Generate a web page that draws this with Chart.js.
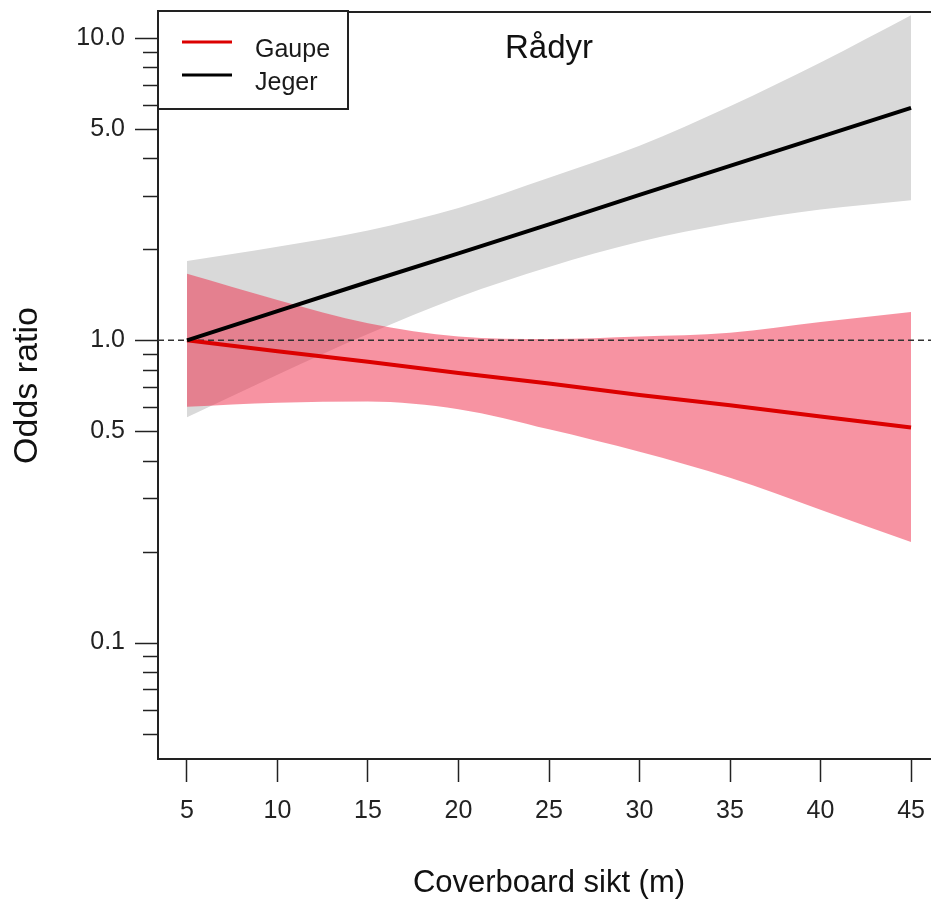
<!DOCTYPE html>
<html>
<head>
<meta charset="utf-8">
<title>Rådyr</title>
<script src="https://cdn.jsdelivr.net/npm/chart.js@4.4.1/dist/chart.umd.min.js"></script>
<style>
  html, body { margin: 0; padding: 0; background: #fff; overflow: hidden; }
  #wrap { width: 940px; height: 906px; }
</style>
</head>
<body>
<div id="wrap"><canvas id="chart" width="940" height="906"></canvas></div>
<script>
// values
const xValues = [5, 10, 15, 20, 25, 30, 35, 40, 45];
const jegerOR = [1.00, 1.25, 1.56, 1.94, 2.42, 3.03, 3.78, 4.71, 5.88];
const jegerUpper = [1.83, 2.04, 2.31, 2.74, 3.45, 4.40, 5.95, 8.30, 11.9];
const jegerLower = [0.557, 0.77, 1.05, 1.39, 1.75, 2.12, 2.44, 2.71, 2.91];
const gaupeOR = [1.00, 0.92, 0.85, 0.78, 0.72, 0.66, 0.61, 0.56, 0.515];
const gaupeUpper = [1.66, 1.36, 1.14, 1.03, 1.01, 1.03, 1.06, 1.15, 1.24];
const gaupeLower = [0.603, 0.622, 0.628, 0.592, 0.508, 0.428, 0.351, 0.275, 0.215];

const seriesNames = ['Gaupe', 'Jeger'];
const panelTitle = 'Rådyr';
const xTitle = 'Coverboard sikt (m)';
const yTitle = 'Odds ratio';

const xTicks = [5, 10, 15, 20, 25, 30, 35, 40, 45];
const yTicks = [0.05, 0.06, 0.07, 0.08, 0.09, 0.1, 0.2, 0.3, 0.4, 0.5, 0.6, 0.7, 0.8, 0.9,
                1, 2, 3, 4, 5, 6, 7, 8, 9, 10];
const yLabelValues = [0.1, 0.5, 1, 5, 10];
const yLabelTexts = ['0.1', '0.5', '1.0', '5.0', '10.0'];
const xRange = [3.4, 46.6];
const yRange = [0.0412, 12.2];
const refValue = 1;

const axisColor = '#222';
const redLine = '#dc0000';
const grayBand = '#d9d9d9';
const pinkBand = 'rgba(240, 40, 70, 0.5)';
const fontFamily = "'Liberation Sans', Arial, sans-serif";

const toPoints = (ys) => xValues.map((x, i) => ({ x: x, y: ys[i] }));

// extra bits in the style of an R base plot: tick marks, box, legend, title
const rPlotExtras = {
    id: 'rPlotExtras',
    afterDraw(chart) {
        const { ctx, chartArea, scales } = chart;
        const y = scales.y;
        ctx.save();
        ctx.strokeStyle = axisColor;
        ctx.lineWidth = 1.5;
        y.ticks.forEach(t => {
            const py = Math.round(y.getPixelForValue(t.value)) + 0.5;
            const len = yLabelValues.includes(t.value) ? 23 : 15;
            ctx.beginPath();
            ctx.moveTo(chartArea.left - len, py);
            ctx.lineTo(chartArea.left, py);
            ctx.stroke();
        });

        // top edge of the box
        ctx.lineWidth = 2;
        ctx.beginPath();
        ctx.moveTo(chartArea.left, chartArea.top);
        ctx.lineTo(chartArea.right, chartArea.top);
        ctx.stroke();

        // legend
        const lx = chartArea.left, ly = chartArea.top - 1;
        ctx.fillStyle = '#fff';
        ctx.fillRect(lx, ly, 190, 98);
        ctx.strokeRect(lx, ly, 190, 98);
        const legendColors = [chart.data.datasets[1].borderColor, chart.data.datasets[0].borderColor];
        ctx.font = '25px ' + fontFamily;
        ctx.textBaseline = 'alphabetic';
        ctx.textAlign = 'left';
        seriesNames.forEach((name, i) => {
            const rowY = ly + 31 + i * 33;
            ctx.strokeStyle = legendColors[i];
            ctx.lineWidth = 3;
            ctx.beginPath();
            ctx.moveTo(lx + 24, rowY);
            ctx.lineTo(lx + 74, rowY);
            ctx.stroke();
            ctx.fillStyle = '#1a1a1a';
            ctx.fillText(name, lx + 97, rowY + 15);
        });

        // panel title
        ctx.font = '33px ' + fontFamily;
        ctx.textAlign = 'center';
        ctx.fillStyle = '#111';
        ctx.fillText(panelTitle, (chartArea.left + chartArea.right) / 2, 58);
        ctx.restore();
    }
};

const ctx = document.getElementById('chart').getContext('2d');
new Chart(ctx, {
    type: 'line',
    data: {
        datasets: [
            {
                label: 'Jeger',
                data: toPoints(jegerOR),
                borderColor: '#000',
                borderWidth: 4,
                pointRadius: 0,
                fill: false,
                order: 0
            },
            {
                label: 'Gaupe',
                data: toPoints(gaupeOR),
                borderColor: redLine,
                borderWidth: 4,
                pointRadius: 0,
                fill: false,
                order: 1
            },
            {
                label: 'ref',
                data: xRange.map(x => ({ x: x, y: refValue })),
                borderColor: '#333',
                borderWidth: 1.5,
                borderDash: [6, 4],
                pointRadius: 0,
                fill: false,
                order: 2
            },
            {
                label: 'Gaupe upper',
                data: toPoints(gaupeUpper),
                borderWidth: 0,
                borderColor: 'rgba(0,0,0,0)',
                backgroundColor: pinkBand,
                pointRadius: 0,
                cubicInterpolationMode: 'monotone',
                fill: '+1',
                order: 3
            },
            {
                label: 'Gaupe lower',
                data: toPoints(gaupeLower),
                borderWidth: 0,
                borderColor: 'rgba(0,0,0,0)',
                pointRadius: 0,
                cubicInterpolationMode: 'monotone',
                fill: false,
                order: 4
            },
            {
                label: 'Jeger upper',
                data: toPoints(jegerUpper),
                borderWidth: 0,
                borderColor: 'rgba(0,0,0,0)',
                backgroundColor: grayBand,
                pointRadius: 0,
                cubicInterpolationMode: 'monotone',
                fill: '+1',
                order: 5
            },
            {
                label: 'Jeger lower',
                data: toPoints(jegerLower),
                borderWidth: 0,
                borderColor: 'rgba(0,0,0,0)',
                pointRadius: 0,
                cubicInterpolationMode: 'monotone',
                fill: false,
                order: 6
            }
        ]
    },
    options: {
        responsive: false,
        animation: false,
        events: [],
        layout: { padding: { top: 12, right: 0, bottom: 0, left: 0 } },
        plugins: {
            legend: { display: false },
            tooltip: { enabled: false }
        },
        scales: {
            x: {
                type: 'linear',
                min: xRange[0],
                max: xRange[1],
                afterBuildTicks: (scale) => { scale.ticks = xTicks.map(v => ({ value: v })); },
                afterFit: (scale) => {
                    scale.height = 147;
                    scale.paddingLeft = 0;
                    scale.paddingRight = 0;
                },
                grid: {
                    display: true,
                    drawOnChartArea: false,
                    drawTicks: true,
                    tickLength: 23,
                    tickColor: axisColor,
                    tickWidth: 1.5,
                    color: axisColor
                },
                border: { display: true, color: axisColor, width: 2 },
                ticks: {
                    autoSkip: false,
                    maxRotation: 0,
                    padding: 14,
                    color: '#222',
                    font: { size: 25, family: fontFamily },
                    callback: (v) => String(v)
                },
                title: {
                    display: true,
                    text: xTitle,
                    color: '#111',
                    font: { size: 31, family: fontFamily },
                    padding: { top: 0, bottom: 4 }
                }
            },
            y: {
                type: 'logarithmic',
                min: yRange[0],
                max: yRange[1],
                afterBuildTicks: (scale) => { scale.ticks = yTicks.map(v => ({ value: v })); },
                afterFit: (scale) => {
                    scale.width = 158;
                    scale.paddingTop = 0;
                    scale.paddingBottom = 0;
                },
                grid: { display: false, drawTicks: false },
                border: { display: true, color: axisColor, width: 2 },
                ticks: {
                    autoSkip: false,
                    padding: 33,
                    color: '#222',
                    font: { size: 25, family: fontFamily },
                    callback: (v) => {
                        const i = yLabelValues.indexOf(v);
                        return i >= 0 ? yLabelTexts[i] : '';
                    }
                },
                title: {
                    display: true,
                    text: yTitle,
                    color: '#111',
                    font: { size: 34, family: fontFamily },
                    padding: { top: 7, bottom: 0 }
                }
            }
        }
    },
    plugins: [rPlotExtras]
});
</script>
</body>
</html>
